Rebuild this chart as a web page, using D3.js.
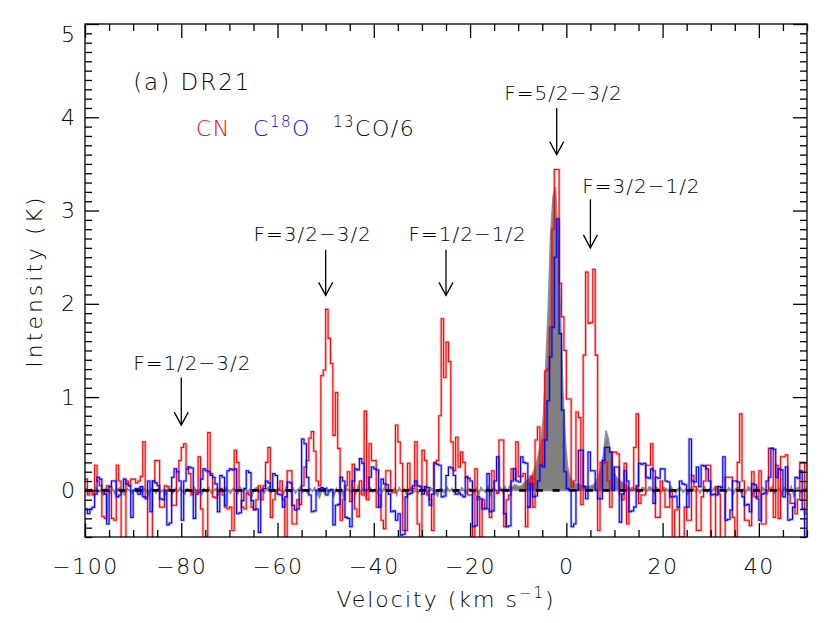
<!DOCTYPE html>
<html><head><meta charset="utf-8">
<script src="https://cdn.jsdelivr.net/npm/d3@7"></script>
<style>
html,body{margin:0;padding:0;background:#fff;}
svg{display:block;}
text{font-family:"DejaVu Sans",sans-serif;font-weight:200;fill:#000;}
</style></head><body>
<svg id="chart" width="830" height="623"></svg>
<script>
// ---------- DATA ----------
const velocityStart = -100;      // km/s, left edge of first channel
const channelWidth = 0.5;        // km/s
// CN spectrum (K), 300 channels from -100 to 50 km/s
const cnValues = [
 0.12,-0.05,0.0,-0.05,0.27,0.1,0.05,-0.28,-0.3,0.05,0.04,-0.3,-0.32,0.27,0.1,-0.6,-0.55,0.1,0.05,0.12,
 0.12,0.08,0.1,0.15,0.52,-0.07,-0.6,-0.6,0.1,0.32,0.32,-0.18,-0.18,0.05,0.04,0.0,-0.16,-0.16,0.2,0.32,
 0.46,0.5,0.25,0.18,-0.05,-0.02,0.0,0.36,-0.2,-0.6,-0.6,0.62,0.18,-0.07,-0.08,0.0,0.02,-0.05,-0.18,-0.2,
 -0.18,-0.43,0.43,0.3,0.0,-0.18,-0.2,-0.03,-0.05,-0.18,-0.2,-0.1,0.05,-0.1,0.05,0.3,0.46,-0.29,-0.1,0.0,
 0.0,0.1,-0.1,-0.6,0.21,0.21,-0.36,-0.36,-0.1,-0.15,0.05,0.25,0.32,0.56,0.63,0.42,0.1,0.05,1.23,1.29,
 1.94,1.63,1.36,0.59,1.05,0.45,-0.32,-0.1,0.05,0.2,-0.12,0.28,-0.2,-0.28,0.1,-0.05,0.85,-0.1,0.5,0.32,
 0.32,-0.18,-0.05,-0.32,-0.41,0.21,0.21,0.0,-0.02,0.7,0.52,0.29,-0.43,-0.43,0.29,0.0,0.02,0.52,-0.36,-0.6,
 0.43,0.32,-0.05,-0.1,-0.43,0.3,0.32,0.8,1.84,1.21,1.59,1.38,0.52,0.21,0.57,0.25,0.41,0.3,0.15,-0.05,
 -0.05,-0.6,0.23,-0.1,-0.6,-0.1,-0.2,-0.2,-0.29,0.21,0.0,-0.03,0.54,0.54,-0.39,-0.1,-0.05,0.23,0.12,0.52,
 0.15,0.15,0.18,-0.39,-0.18,0.15,-0.18,0.54,0.68,0.27,0.54,1.28,1.3,1.75,2.8,3.44,3.44,2.22,1.86,1.5,
 0.98,0.98,0.04,0.1,0.84,0.78,-0.15,1.45,2.34,1.79,1.8,2.37,1.45,-0.43,0.3,0.29,0.3,0.1,-0.18,0.41,
 0.41,0.39,-0.04,-0.1,0.29,-0.36,0.0,0.0,0.46,0.82,-0.14,-0.05,-0.05,0.27,0.27,0.5,0.21,-0.29,-0.29,0.1,
 0.0,-0.18,-0.18,0.0,-0.6,-0.21,-0.2,-0.5,-0.5,-0.18,-0.32,-0.32,0.16,0.04,-0.43,-0.43,-0.07,0.1,0.27,0.27,
 -0.6,-0.6,0.04,-0.04,-0.6,-0.6,0.14,0.14,0.14,-0.29,-0.5,0.3,0.82,0.1,-0.32,-0.32,-0.38,0.2,-0.07,-0.07,
 0.21,-0.36,-0.36,0.0,0.45,0.45,-0.29,0.27,-0.3,0.36,0.36,0.38,-0.04,-0.14,-0.14,-0.25,-0.1,0.3,0.3,-0.25
];
// C18O spectrum (K)
const c18oValues = [
 -0.2,-0.25,-0.2,-0.18,-0.04,0.14,0.12,0.0,-0.04,-0.36,0.04,0.1,0.1,-0.07,-0.05,0.0,0.12,0.07,0.05,-0.29,
 0.0,0.02,-0.04,0.04,-0.07,-0.09,0.1,-0.23,0.1,0.08,0.05,-0.09,-0.1,0.0,-0.37,-0.35,0.14,0.23,0.2,0.1,
 -0.32,0.1,0.23,0.25,0.24,-0.3,-0.04,-0.02,0.12,0.23,0.21,0.2,0.16,0.14,0.07,-0.23,0.16,0.14,-0.16,0.21,
 0.23,0.22,0.23,-0.25,-0.24,-0.11,0.02,0.21,0.19,-0.11,-0.21,-0.2,-0.45,0.0,0.02,0.1,0.08,0.0,0.18,0.16,
 -0.04,-0.05,-0.18,-0.07,0.09,0.08,-0.16,-0.21,-0.2,0.0,0.55,0.5,0.14,-0.05,-0.23,-0.22,0.0,0.02,0.03,0.02,
 -0.05,0.0,0.01,-0.37,-0.16,-0.15,0.14,0.1,-0.29,-0.3,-0.39,0.1,0.23,0.22,0.34,0.29,0.0,0.01,0.14,0.25,
 0.23,0.22,-0.18,0.12,0.07,0.06,-0.04,-0.23,-0.22,-0.32,-0.25,-0.48,-0.47,-0.07,-0.04,-0.03,0.05,0.1,0.05,0.04,
 -0.04,0.04,0.03,-0.16,-0.04,0.29,0.28,0.27,-0.07,-0.06,0.16,0.25,0.24,0.16,-0.04,-0.03,-0.05,-0.07,0.14,0.13,
 0.1,-0.39,-0.38,-0.07,-0.09,-0.2,-0.19,0.18,-0.23,-0.22,0.1,0.36,0.0,0.01,-0.25,-0.39,-0.38,0.1,0.23,0.1,
 0.09,0.36,0.3,0.29,-0.18,0.07,-0.07,-0.06,0.1,0.27,0.25,0.54,0.96,1.43,1.75,2.5,2.91,1.68,0.86,0.2,
 0.02,0.0,-0.39,-0.36,0.0,0.43,0.43,0.04,-0.09,0.41,0.21,0.21,0.0,-0.09,-0.09,0.32,0.46,0.46,0.41,0.0,
 0.25,0.25,-0.34,-0.04,0.21,0.1,-0.23,-0.22,-0.18,0.05,0.29,0.28,0.29,0.14,0.13,0.23,-0.14,0.14,0.13,0.23,
 0.23,0.1,0.09,-0.07,-0.07,-0.06,-0.18,0.1,0.07,0.06,-0.18,0.55,0.1,0.09,0.25,0.04,0.27,0.26,0.23,0.1,
 -0.05,-0.04,-0.05,0.04,0.03,0.36,-0.32,-0.31,-0.21,0.1,0.1,0.09,0.0,-0.07,-0.16,-0.15,-0.23,0.07,0.06,-0.09,
 -0.32,-0.04,-0.03,0.1,0.14,0.45,0.44,0.14,0.23,0.22,-0.07,0.25,-0.32,-0.31,-0.18,0.14,0.13,0.21,-0.2,-0.6
];
// 13CO/6 spectrum (K), sampled at channel centres
const co13Values = [
 0.02,-0.03,0.01,-0.04,0.03,-0.02,0.0,-0.05,0.02,0.01,-0.03,0.02,-0.04,0.01,0.03,-0.02,-0.05,0.02,0.0,-0.03,
 0.01,-0.02,0.03,-0.04,0.02,-0.01,-0.05,0.02,0.01,-0.03,0.03,-0.02,0.0,-0.04,0.02,0.01,-0.03,0.02,-0.02,0.03,
 -0.01,-0.04,0.02,0.0,-0.03,0.03,-0.02,0.01,-0.05,0.02,-0.01,0.03,-0.03,0.0,0.02,-0.04,0.01,-0.02,0.03,-0.01,
 -0.03,0.02,0.0,-0.04,0.03,-0.01,0.02,-0.03,0.01,-0.05,0.02,0.03,-0.02,0.0,-0.03,0.02,0.04,-0.02,0.01,-0.03,
 0.02,-0.01,-0.04,0.03,0.0,-0.02,0.02,-0.03,0.01,0.04,-0.02,0.01,-0.03,0.02,-0.01,0.03,-0.04,-0.08,0.02,-0.03,
 0.03,-0.02,0.01,-0.06,0.02,-0.03,0.01,-0.09,0.03,0.0,-0.02,0.02,-0.04,0.05,-0.03,0.02,-0.07,0.01,0.03,-0.02,
 0.01,-0.03,0.02,-0.02,0.04,-0.01,0.0,-0.03,0.02,-0.05,0.03,-0.01,0.02,-0.04,0.01,0.03,-0.02,0.0,-0.03,0.02,
 -0.01,0.02,-0.04,0.03,0.01,-0.02,-0.06,0.02,0.0,-0.03,0.03,-0.01,0.02,-0.04,0.01,-0.02,0.03,0.0,-0.03,0.02,
 0.01,-0.03,0.02,-0.06,0.03,0.0,-0.02,0.04,-0.05,0.02,0.01,-0.03,0.03,-0.02,0.04,-0.01,0.05,0.03,0.06,0.05,
 0.04,0.05,0.08,0.1,0.12,0.15,0.21,0.28,0.39,0.52,0.8,1.35,1.95,2.75,3.15,3.25,2.7,1.9,1.1,0.55,
 0.25,0.14,0.1,0.08,0.07,0.06,0.05,0.05,0.04,0.04,0.05,0.06,0.1,0.16,0.25,0.4,0.64,0.55,0.35,0.22,
 0.15,0.12,0.1,0.08,0.06,0.04,0.02,0.03,0.01,0.04,-0.02,0.03,0.02,-0.01,0.04,0.02,-0.03,0.03,0.01,-0.02,
 0.03,0.02,-0.01,0.04,0.0,-0.03,0.02,0.03,-0.02,0.01,-0.04,0.02,0.03,-0.01,0.02,-0.03,0.01,0.04,-0.02,0.02,
 -0.01,0.03,0.02,-0.03,0.04,0.01,-0.02,0.03,0.0,-0.04,0.02,0.03,-0.02,0.01,-0.03,0.04,0.02,-0.05,0.01,0.03,
 -0.02,0.03,0.01,-0.04,0.02,0.04,-0.03,0.0,0.02,-0.05,0.03,0.01,-0.02,0.04,-0.06,0.02,0.03,-0.03,0.01,0.02
];
const xDomain = [-100, 50];
const yDomain = [-0.5, 5];
const xMajorTicks = [-100, -80, -60, -40, -20, 0, 20, 40];
const xMinorStep = 5;
const yMajorTicks = [0, 1, 2, 3, 4, 5];
const yMinorStep = 0.1;
// hyperfine component markers: arrow velocity, tip/tail intensity, label start velocity/intensity
const hfLabels = ["F=1/2\u22123/2", "F=3/2\u22123/2", "F=1/2\u22121/2", "F=5/2\u22123/2", "F=3/2\u22121/2"];
const hfVel    = [-80, -50, -25, -2, 5];
const hfTip    = [0.70, 2.09, 2.09, 3.60, 2.60];
const hfTail   = [1.21, 2.58, 2.58, 4.10, 3.12];
const hfTextV  = [-90.0, -65.0, -32.8, -12.9, 3.3];
const hfTextT  = [1.29, 2.67, 2.67, 4.19, 3.19];

// ---------- CHART ----------
const svg = d3.select("#chart");
const L = 85, R = 807, T = 24, B = 537;
const x = d3.scaleLinear().domain(xDomain).range([L, R]);
const y = d3.scaleLinear().domain(yDomain).range([B, T]);

svg.append("defs").append("clipPath").attr("id", "plotclip")
  .append("rect").attr("x", L).attr("y", T).attr("width", R - L).attr("height", B - T);

const plot = svg.append("g").attr("clip-path", "url(#plotclip)");

// 13CO/6 filled profile
const centres = co13Values.map((v, i) => ({v: velocityStart + channelWidth * (i + 0.5), t: v}));
plot.append("path")
  .datum(centres)
  .attr("fill", "#808080")
  .attr("stroke", "#909090").attr("stroke-width", 1.6)
  .attr("d", d3.area().x(d => x(d.v)).y0(y(0)).y1(d => y(d.t)));

function stepPoints(vals) {
  const pts = vals.map((t, i) => ({v: velocityStart + channelWidth * i, t}));
  pts.push({v: velocityStart + channelWidth * vals.length, t: vals[vals.length - 1]});
  return pts;
}
const stepLine = d3.line().x(d => x(d.v)).y(d => y(d.t)).curve(d3.curveStepAfter);

function drawSpec(vals, color) {
  const pts = stepPoints(vals);
  plot.append("path").datum(pts).attr("fill", "none").attr("stroke", color)
    .attr("stroke-opacity", 0.25).attr("stroke-width", 2.8).attr("d", stepLine);
  plot.append("path").datum(pts).attr("fill", "none").attr("stroke", color)
    .attr("stroke-width", 1.1).attr("d", stepLine);
}
drawSpec(cnValues, "#ff0000");
drawSpec(c18oValues, "#0000ff");

// zero line
plot.append("line")
  .attr("x1", x(xDomain[0])).attr("x2", x(xDomain[1]))
  .attr("y1", y(0)).attr("y2", y(0))
  .attr("stroke", "#000").attr("stroke-width", 2.6)
  .attr("stroke-dasharray", "7,9.7");

// axes (ticks inside on all four sides)
const xMinor = d3.range(xDomain[0], xDomain[1] + 0.001, xMinorStep).filter(v => !xMajorTicks.includes(v));
const yMinor = d3.range(0, 56).map(i => +(yDomain[0] + i * yMinorStep).toFixed(2))
  .filter(v => v <= yDomain[1] && !yMajorTicks.includes(v));
const fmt = v => (v < 0 ? "\u2212" : "") + Math.abs(v);

function styleAxis(g) {
  g.attr("font-size", null).attr("font-family", null);
  g.select(".domain").remove();
  g.selectAll(".tick line").attr("stroke", "#000").attr("stroke-width", 1.3);
}
// bottom
svg.append("g").attr("transform", `translate(0,${B})`)
  .call(d3.axisBottom(x).tickValues(xMajorTicks).tickSize(-14).tickSizeOuter(0).tickPadding(21).tickFormat(fmt))
  .call(styleAxis)
  .selectAll("text").attr("font-size", 22).attr("letter-spacing", 1.5);
svg.append("g").attr("transform", `translate(0,${B})`)
  .call(d3.axisBottom(x).tickValues(xMinor).tickSize(-7).tickSizeOuter(0).tickFormat(""))
  .call(styleAxis);
// top
svg.append("g").attr("transform", `translate(0,${T})`)
  .call(d3.axisTop(x).tickValues(xMajorTicks).tickSize(-14).tickSizeOuter(0).tickFormat(""))
  .call(styleAxis);
svg.append("g").attr("transform", `translate(0,${T})`)
  .call(d3.axisTop(x).tickValues(xMinor).tickSize(-7).tickSizeOuter(0).tickFormat(""))
  .call(styleAxis);
// left
svg.append("g").attr("transform", `translate(${L},0)`)
  .call(d3.axisLeft(y).tickValues(yMajorTicks).tickSize(-14).tickSizeOuter(0).tickPadding(10).tickFormat(fmt))
  .call(styleAxis)
  .selectAll("text").attr("font-size", 22)
  .attr("dy", d => (y(d) - 18 < T ? "0.8em" : "0.32em"));
svg.append("g").attr("transform", `translate(${L},0)`)
  .call(d3.axisLeft(y).tickValues(yMinor).tickSize(-7).tickSizeOuter(0).tickFormat(""))
  .call(styleAxis);
// right
svg.append("g").attr("transform", `translate(${R},0)`)
  .call(d3.axisRight(y).tickValues(yMajorTicks).tickSize(-14).tickSizeOuter(0).tickFormat(""))
  .call(styleAxis);
svg.append("g").attr("transform", `translate(${R},0)`)
  .call(d3.axisRight(y).tickValues(yMinor).tickSize(-7).tickSizeOuter(0).tickFormat(""))
  .call(styleAxis);

// frame
svg.append("rect").attr("x", L).attr("y", T).attr("width", R - L).attr("height", B - T)
  .attr("fill", "none").attr("stroke", "#000").attr("stroke-width", 1.3);

// axis titles
const xt = svg.append("text").attr("x", 446).attr("y", 607).attr("text-anchor", "middle")
  .attr("font-size", 22).attr("letter-spacing", 2);
xt.append("tspan").text("Velocity (km s");
xt.append("tspan").attr("dy", -9).attr("font-size", 15).text("\u22121");
xt.append("tspan").attr("dy", 9).text(")");
svg.append("text").attr("transform", "translate(42,281) rotate(-90)").attr("text-anchor", "middle")
  .attr("font-size", 22).attr("letter-spacing", 3).text("Intensity (K)");

// title and legend
svg.append("text").attr("x", x(-90)).attr("y", 90).attr("font-size", 23).attr("letter-spacing", 2).text("(a) DR21");
svg.append("text").attr("x", 196).attr("y", 136).attr("font-size", 22).attr("letter-spacing", 1.5)
  .style("fill", "#ff0000").text("CN");
const lc = svg.append("text").attr("x", 253).attr("y", 136).attr("font-size", 22).attr("letter-spacing", 1.5)
  .style("fill", "#0000ff");
lc.append("tspan").text("C");
lc.append("tspan").attr("dy", -9).attr("font-size", 15).text("18");
lc.append("tspan").attr("dy", 9).text("O");
const lk = svg.append("text").attr("x", 333).attr("y", 136).attr("font-size", 22).attr("letter-spacing", 1.5);
lk.append("tspan").attr("dy", -9).attr("font-size", 15).text("13");
lk.append("tspan").attr("dy", 9).text("CO/6");

// hyperfine arrows
hfLabels.forEach((lab, i) => {
  const ax = x(hfVel[i]), ty = y(hfTip[i]), tl = y(hfTail[i]);
  svg.append("text").attr("x", x(hfTextV[i])).attr("y", y(hfTextT[i]))
    .attr("font-size", 20).attr("letter-spacing", 1).text(lab);
  svg.append("line").attr("x1", ax).attr("x2", ax).attr("y1", tl).attr("y2", ty)
    .attr("stroke", "#000").attr("stroke-width", 1.3);
  svg.append("path").attr("d", `M${ax - 7},${ty - 13}L${ax},${ty}L${ax + 7},${ty - 13}`)
    .attr("fill", "none").attr("stroke", "#000").attr("stroke-width", 1.3);
});
</script>
</body></html>
